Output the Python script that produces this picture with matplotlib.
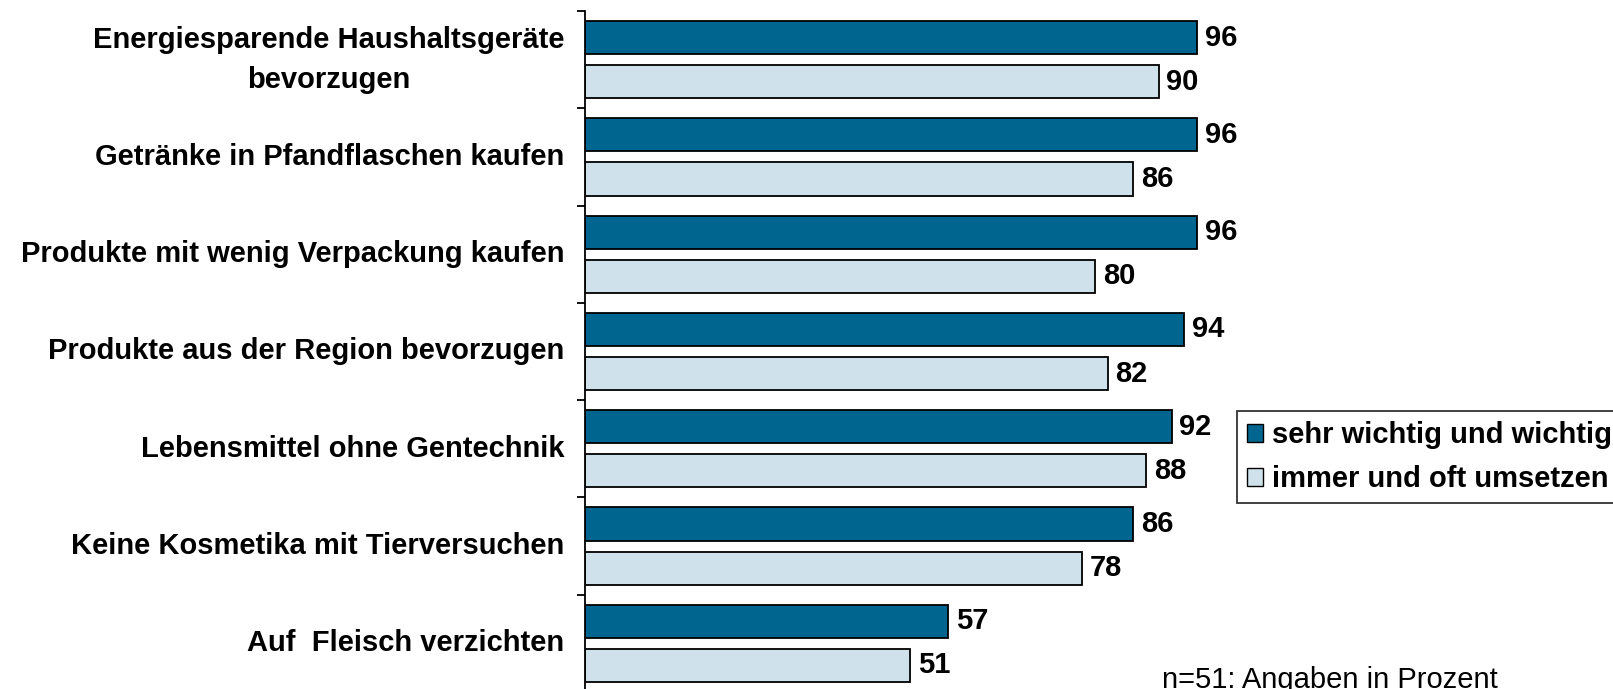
import numpy as np
import matplotlib.pyplot as plt
from matplotlib.patches import Patch

plt.rcParams["font.family"] = ["Liberation Sans", "DejaVu Sans"]

# ---------------- DATA ----------------
categories = [
    "Energiesparende Haushaltsgeräte\nbevorzugen",
    "Getränke in Pfandflaschen kaufen",
    "Produkte mit wenig Verpackung kaufen",
    "Produkte aus der Region bevorzugen",
    "Lebensmittel ohne Gentechnik",
    "Keine Kosmetika mit Tierversuchen",
    "Auf  Fleisch verzichten",
]
wichtig = [96, 96, 96, 94, 92, 86, 57]
umsetzen = [90, 86, 80, 82, 88, 78, 51]
series_names = ["sehr wichtig und wichtig", "immer und oft umsetzen"]

dark = "#00668f"
light = "#cfe1ea"

# ---------------- PLOT ----------------
fig = plt.figure(figsize=(16.13, 6.89), dpi=100)
ax = fig.add_axes([585 / 1613, 1 - 692 / 689, 637.6 / 1613, 681 / 689])

y = np.arange(len(categories))
h = 0.34
ax.barh(y - 0.227, wichtig, height=h, color=dark, edgecolor="black", linewidth=1.3)
ax.barh(y + 0.227, umsetzen, height=h, color=light, edgecolor="black", linewidth=1.3)

# value labels
for i in range(len(categories)):
    ax.text(wichtig[i] + 1.2, y[i] - 0.227, str(wichtig[i]), va="center", ha="left",
            fontsize=21, fontweight="bold")
    ax.text(umsetzen[i] + 1.2, y[i] + 0.227, str(umsetzen[i]), va="center", ha="left",
            fontsize=21, fontweight="bold")

ax.set_xlim(0, 100)
ax.set_ylim(len(categories) - 0.5, -0.5)

ax.set_yticks(y)
ax.set_yticklabels(categories, fontsize=21, fontweight="bold", linespacing=1.55)
for t in ax.get_yticklabels():
    t.set_multialignment("center")
    t.set_verticalalignment("center")
ax.tick_params(axis="y", which="major", length=0, pad=15)
ax.set_yticks(np.arange(len(categories) + 1) - 0.5, minor=True)
ax.tick_params(axis="y", which="minor", length=6, width=1.3, direction="out")

ax.set_xticks([])
for s in ["top", "right", "bottom"]:
    ax.spines[s].set_visible(False)
ax.spines["left"].set_linewidth(1.3)

# legend
handles = [Patch(facecolor=dark, edgecolor="black"), Patch(facecolor=light, edgecolor="black")]
leg = fig.legend(handles, series_names, loc="upper left",
                 bbox_to_anchor=(1237 / 1613, 1 - 411 / 689), borderaxespad=0,
                 prop={"size": 21, "weight": "bold"}, fancybox=False,
                 edgecolor="black", handlelength=0.55, handleheight=0.55,
                 handletextpad=0.3, labelspacing=0.55, borderpad=0.35)
leg.get_frame().set_linewidth(1.3)

# footnote, cut by the bottom edge as in the source
fig.text(1162 / 1613, 1 / 689, "n=51: Angaben in Prozent", fontsize=21, ha="left", va="baseline")

plt.savefig("out.png", dpi=100)
